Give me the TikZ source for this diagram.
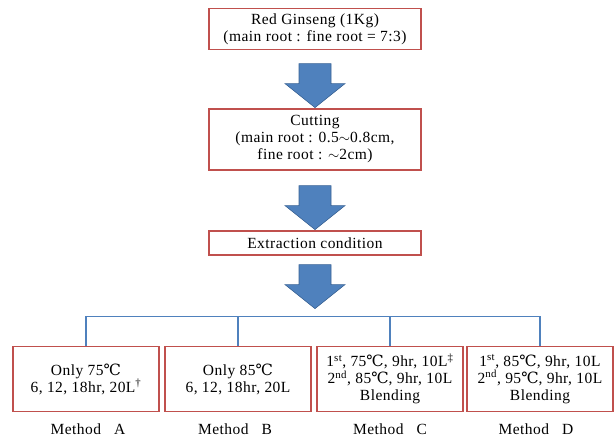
\documentclass[tikz,border=0pt]{standalone}
\usepackage{fontspec}
\setmainfont[LetterSpace=3]{Liberation Serif}
\newfontfamily\degfont{DejaVu Serif}
\usetikzlibrary{arrows.meta,positioning}
\definecolor{boxred}{HTML}{C0504D}
\definecolor{flowblue}{HTML}{4F81BD}
\definecolor{flowedge}{HTML}{3A6395}
\newcommand{\degc}{{\degfont ℃}}
\newcommand{\bigdown}[2]{\filldraw[barrow] ([xshift=-16pt,yshift=-#2]#1.south) -- ++(32pt,0pt) -- ++(0pt,-20pt) -- ++(14pt,0pt) -- ++(-30pt,-24pt) -- ++(-30pt,24pt) -- ++(14pt,0pt) -- cycle;}

\begin{document}
\begin{tikzpicture}[x=1pt,y=-1pt,
  stepbox/.style={draw=boxred,line width=1.2pt,fill=white,minimum width=212pt,align=center,inner sep=2pt,font=\fontsize{15.5}{17}\selectfont},
  methodbox/.style={stepbox,minimum width=146pt,minimum height=65pt},
  lab/.style={font=\fontsize{15.5}{17}\selectfont,inner sep=0pt},
  barrow/.style={fill=flowblue,draw=flowedge,line width=0.6pt},
  bus/.style={draw=flowblue,line width=1.3pt}]
\useasboundingbox (0,0) rectangle (616,439);
\node[stepbox,minimum height=41pt] (r0) at (315,29) {Red Ginseng (1Kg)\\(main root : fine root = 7:3)};
\node[stepbox,minimum height=61pt] (r1) at (315,139.5) {Cutting\\(main root : 0.5$\sim$0.8cm,\\fine root : $\sim$2cm)};
\node[stepbox,minimum height=24pt] (r2) at (315,243) {Extraction condition};
\node[methodbox] (m0) at (86,379) {Only 75\degc\\6, 12, 18hr, 20L\textsuperscript{†}};
\node[methodbox] (m1) at (238,379) {Only 85\degc\\6, 12, 18hr, 20L};
\node[methodbox] (m2) at (390,379) {1\textsuperscript{st}, 75\degc, 9hr, 10L\textsuperscript{‡}\\2\textsuperscript{nd}, 85\degc, 9hr, 10L\\Blending};
\node[methodbox] (m3) at (540,379) {1\textsuperscript{st}, 85\degc, 9hr, 10L\\2\textsuperscript{nd}, 95\degc, 9hr, 10L\\Blending};
\node[lab] (l0) at (88,429.5) {Method~~~A};
\node[lab] (l1) at (235,429.5) {Method~~~B};
\node[lab] (l2) at (390,429.5) {Method~~~C};
\node[lab] (l3) at (536,429.5) {Method~~~D};
\bigdown{r0}{13.5pt}
\bigdown{r1}{15pt}
\bigdown{r2}{9pt}
\coordinate (bus) at (315,316.5);
\draw[bus] (m0.north) -- (m0.north |- bus) -- (m3.north |- bus) -- (m3.north);
\draw[bus] (m1.north) -- (m1.north |- bus);
\draw[bus] (m2.north) -- (m2.north |- bus);
\end{tikzpicture}
\end{document}
